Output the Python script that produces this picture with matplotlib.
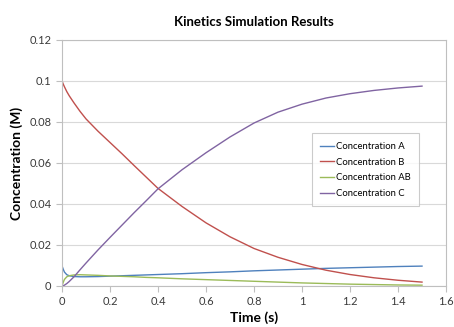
import matplotlib
matplotlib.use("Agg")
import matplotlib.pyplot as plt

# values
time_s = [0, 0.005, 0.01, 0.02, 0.03, 0.05, 0.075, 0.1, 0.15, 0.2, 0.25, 0.3, 0.35,
          0.4, 0.5, 0.6, 0.7, 0.8, 0.9, 1.0, 1.1, 1.2, 1.3, 1.4, 1.5]
conc_a = [0.0098, 0.0082, 0.0068, 0.0055, 0.0050, 0.0046, 0.0045, 0.0045, 0.0046,
          0.0048, 0.0050, 0.0052, 0.0054, 0.0056, 0.0060, 0.0065, 0.0069, 0.0074,
          0.0078, 0.0082, 0.0086, 0.0089, 0.0092, 0.0095, 0.0097]
conc_b = [0.1, 0.0985, 0.0972, 0.0948, 0.0928, 0.0893, 0.0852, 0.0815, 0.0755,
          0.0700, 0.0645, 0.0588, 0.0532, 0.0476, 0.0388, 0.0308, 0.0240, 0.0183,
          0.0140, 0.0105, 0.0077, 0.0056, 0.0040, 0.0028, 0.0019]
conc_ab = [0, 0.0018, 0.0032, 0.0045, 0.0050, 0.0054, 0.0055, 0.0054, 0.0052,
           0.0049, 0.0047, 0.0045, 0.0042, 0.0040, 0.0035, 0.0031, 0.0027, 0.0023,
           0.0019, 0.0015, 0.0012, 0.0009, 0.0007, 0.0005, 0.0004]
conc_c = [0, 0.0001, 0.0004, 0.0012, 0.0022, 0.0045, 0.0079, 0.0112, 0.0176,
          0.0237, 0.0297, 0.0357, 0.0415, 0.0474, 0.0567, 0.0650, 0.0727, 0.0795,
          0.0848, 0.0887, 0.0917, 0.0938, 0.0954, 0.0966, 0.0975]

series = [("Concentration A", conc_a, "#4F81BD"),
          ("Concentration B", conc_b, "#C0504D"),
          ("Concentration AB", conc_ab, "#9BBB59"),
          ("Concentration C", conc_c, "#8064A2")]

plt.rcParams["font.family"] = ["Lato", "DejaVu Sans"]

fig = plt.figure(figsize=(4.54, 3.27), dpi=100)
ax = fig.add_axes([0.1366, 0.1254, 0.8458, 0.7523])

for name, vals, color in series:
    ax.plot(time_s, vals, color=color, lw=1.0, label=name)

ax.set_xlim(0, 1.6)
ax.set_ylim(0, 0.12)
ax.set_xticks([0, 0.2, 0.4, 0.6, 0.8, 1, 1.2, 1.4, 1.6])
ax.set_xticklabels(["0", "0.2", "0.4", "0.6", "0.8", "1", "1.2", "1.4", "1.6"])
ax.set_yticks([0, 0.02, 0.04, 0.06, 0.08, 0.1, 0.12])
ax.set_yticklabels(["0", "0.02", "0.04", "0.06", "0.08", "0.1", "0.12"])
ax.grid(axis="y", color="#d9d9d9", lw=0.8)
ax.set_axisbelow(True)
for sp in ax.spines.values():
    sp.set_color("#bfbfbf")
    sp.set_linewidth(0.8)
ax.tick_params(colors="#bfbfbf", labelcolor="#3a3a3a", labelsize=8, length=4, width=0.8)

ax.set_title("Kinetics Simulation Results", fontsize=9.5, fontweight="bold", pad=10)
ax.set_xlabel("Time (s)", fontsize=10, fontweight="bold", labelpad=3)
ax.set_ylabel("Concentration (M)", fontsize=10, fontweight="bold", labelpad=5)

leg = ax.legend(loc="upper left", bbox_to_anchor=(0.651, 0.62), fontsize=6.8,
                frameon=True, fancybox=False, handlelength=1.4, handletextpad=0.2,
                borderpad=0.9, labelspacing=0.7, borderaxespad=0)
leg.get_frame().set_edgecolor("#bfbfbf")
leg.get_frame().set_linewidth(0.8)

fig.savefig("out.png", dpi=100)
